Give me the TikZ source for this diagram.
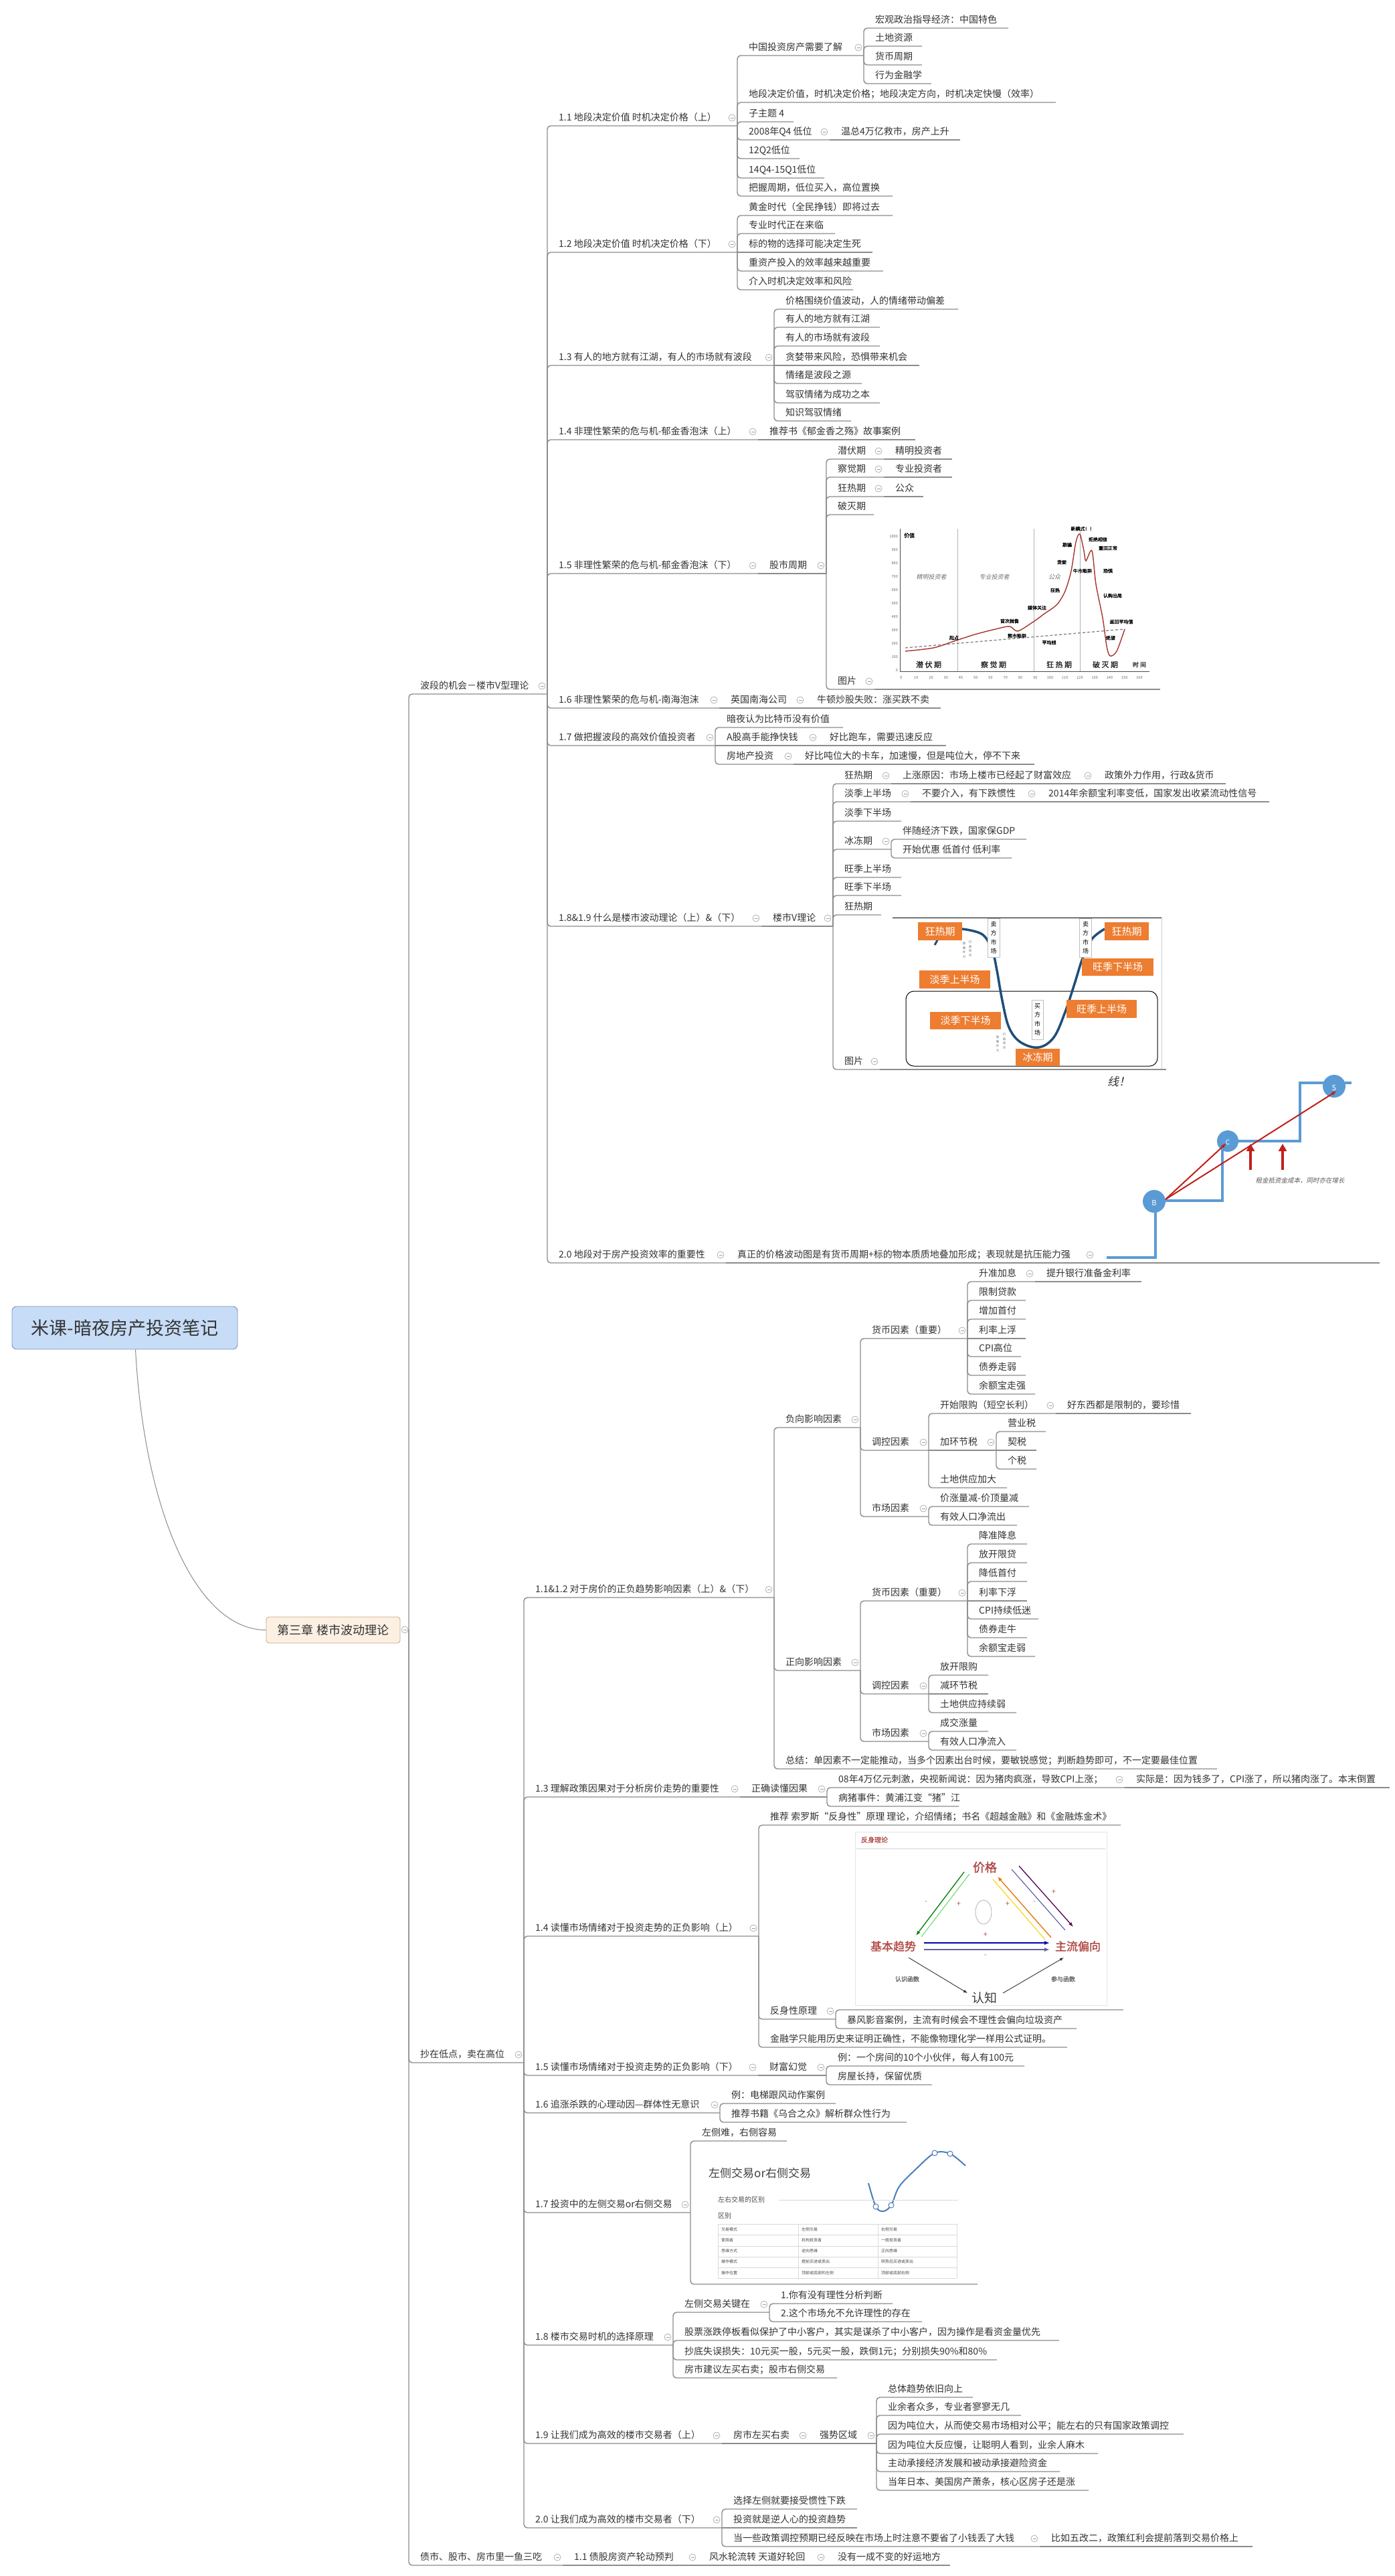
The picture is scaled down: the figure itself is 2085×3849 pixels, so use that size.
\documentclass[tikz,border=0pt]{standalone}
\usepackage{fontspec}
\setmainfont{Noto Sans CJK SC}
\newfontfamily\cjkb{Noto Sans CJK SC}[FakeBold=1.5]
\newfontfamily\cjksl{Noto Sans CJK SC}[FakeSlant=0.22]
\usetikzlibrary{arrows.meta,calc}

\definecolor{ink}{HTML}{333333}
\definecolor{wire}{HTML}{8C8C8C}
\definecolor{rootfill}{HTML}{C7DCF6}
\definecolor{rootline}{HTML}{7894B8}
\definecolor{chfill}{HTML}{FCF0E3}
\definecolor{chline}{HTML}{C9A27F}
\definecolor{orng}{HTML}{ED7D31}
\definecolor{navy}{HTML}{1F4E79}
\definecolor{stair}{HTML}{5B9BD5}
\definecolor{crimson}{HTML}{C0201A}
\definecolor{bubble}{HTML}{A5352E}
\definecolor{reflred}{HTML}{B04A45}
\definecolor{lrblue}{HTML}{4A7EBB}

\newcommand\fs[1]{\fontsize{#1}{#1}\selectfont}

\tikzset{
  tx/.style={anchor=base west, inner sep=0pt, text=ink, font=\fs{14}},
  ln/.style={draw=wire, line width=1.4pt, rounded corners=5pt},
  fold/.style={circle, draw=gray!75, fill=white, line width=0.6pt, minimum size=10pt, inner sep=0pt},
  obox/.style={fill=orng, text=white, inner sep=0pt, font=\fs{15}},
  vlab/.style={draw=gray!50, fill=white, inner sep=1pt, align=center, font=\fontsize{9}{13.5}\selectfont, text=black},
  tiny/.style={inner sep=0pt, font=\cjkb\fs{7}, text=black},
  slab/.style={inner sep=0pt, font=\cjksl\fs{9}, text=black!55},
  phase/.style={inner sep=0pt, font=\cjkb\fs{11}, text=black!85},
  cell/.style={anchor=west, inner sep=0pt, font=\fs{6}, text=black!70},
}

% text node sitting on its underline: name, left x, underline y, right x, text
\newcommand\nd[5]{\coordinate (#1-l) at (#2,#3);\coordinate (#1-r) at (#4,#3);%
  \node[tx] (#1) at (#2+17,#3-8) {#5};}
% underline only (picture children)
\newcommand\ic[4]{\coordinate (#1-l) at (#2,#3);\coordinate (#1-r) at (#4,#3);}
% branch from parent to child / straight chain
\newcommand\cn[2]{\draw[ln] (#1-r) |- (#2-r);}
\newcommand\cc[2]{\draw[ln] (#1-r) -- (#2-r);}
% collapse marker
\newcommand\fd[1]{\node[fold] at ($(#1-r)+(-8,-12)$) {};%
  \draw[gray!75, line width=0.7pt] ($(#1-r)+(-10.5,-12)$) -- ($(#1-r)+(-5.5,-12)$);}

\begin{document}
\begin{tikzpicture}[x=1pt,y=-1pt]
\fill[white] (0,0) rectangle (2085,3849);
\useasboundingbox (0,0) rectangle (2085,3849);

% ---------------- root and chapter ----------------
\node[draw=rootline, fill=rootfill, rounded corners=7pt, line width=0.9pt,
      minimum width=337pt, minimum height=64pt, font=\fs{27}, text=ink] (root) at (186.5,1984) {米课-暗夜房产投资笔记};
\node[draw=chline, fill=chfill, rounded corners=4pt, line width=0.8pt,
      minimum width=200pt, minimum height=39pt, font=\fs{18}, text=ink] (ch) at (498,2435.5) {第三章 楼市波动理论};
\draw[wire, line width=1pt] ($(root.south)+(16,0)$) .. controls (215,2250) and (290,2435) .. (ch.west);
\coordinate (ch-r) at (611,2435);
\node[fold] at (605,2435) {};
\draw[gray!75, line width=0.7pt] (602.5,2435) -- (607.5,2435);

% ---------------- level 1 ----------------
\nd{A}{611}{1037}{818}{波段的机会－楼市V型理论}
\nd{B}{611}{3082}{783}{抄在低点，卖在高位}
\nd{C}{611}{3833}{841}{债市、股市、房市里一鱼三吃}
\nd{C1}{841}{3833}{1043}{1.1 债股房资产轮动预判}
\nd{C2}{1043}{3833}{1235}{风水轮流转 天道好轮回}
\nd{C3}{1235}{3833}{1420}{没有一成不变的好运地方}

% ---------------- branch A ----------------
\nd{a11}{818}{188}{1102}{1.1 地段决定价值 时机决定价格（上）}
\nd{a11a}{1102}{83}{1291}{中国投资房产需要了解}
\nd{a11a1}{1291}{42}{1507}{宏观政治指导经济：中国特色}
\nd{a11a2}{1291}{69}{1378}{土地资源}
\nd{a11a3}{1291}{97}{1378}{货币周期}
\nd{a11a4}{1291}{125}{1392}{行为金融学}
\nd{a11b}{1102}{153}{1578}{地段决定价值，时机决定价格；地段决定方向，时机决定快慢（效率）}
\nd{a11c}{1102}{182}{1186}{子主题 4}
\nd{a11d}{1102}{209}{1240}{2008年Q4 低位}
\nd{a11d1}{1240}{209}{1435}{温总4万亿救市，房产上升}
\nd{a11e}{1102}{237}{1195}{12Q2低位}
\nd{a11f}{1102}{266}{1232}{14Q4-15Q1低位}
\nd{a11g}{1102}{293}{1334}{把握周期，低位买入，高位置换}

\nd{a12}{818}{377}{1102}{1.2 地段决定价值 时机决定价格（下）}
\nd{a12a}{1102}{322}{1334}{黄金时代（全民挣钱）即将过去}
\nd{a12b}{1102}{349}{1248}{专业时代正在来临}
\nd{a12c}{1102}{377}{1304}{标的物的选择可能决定生死}
\nd{a12d}{1102}{405}{1320}{重资产投入的效率越来越重要}
\nd{a12e}{1102}{433}{1275}{介入时机决定效率和风险}

\nd{a13}{818}{546}{1157}{1.3 有人的地方就有江湖，有人的市场就有波段}
\nd{a13a}{1157}{462}{1432}{价格围绕价值波动，人的情绪带动偏差}
\nd{a13b}{1157}{489}{1315}{有人的地方就有江湖}
\nd{a13c}{1157}{517}{1315}{有人的市场就有波段}
\nd{a13d}{1157}{546}{1374}{贪婪带来风险，恐惧带来机会}
\nd{a13e}{1157}{573}{1288}{情绪是波段之源}
\nd{a13f}{1157}{602}{1315}{驾驭情绪为成功之本}
\nd{a13g}{1157}{629}{1272}{知识驾驭情绪}

\nd{a14}{818}{657}{1133}{1.4 非理性繁荣的危与机-郁金香泡沫（上）}
\nd{a14a}{1133}{657}{1368}{推荐书《郁金香之殇》故事案例}

\nd{a15}{818}{857}{1133}{1.5 非理性繁荣的危与机-郁金香泡沫（下）}
\nd{a15a}{1133}{857}{1235}{股市周期}
\nd{p1}{1235}{686}{1321}{潜伏期}
\nd{p1a}{1321}{686}{1423}{精明投资者}
\nd{p2}{1235}{713}{1321}{察觉期}
\nd{p2a}{1321}{713}{1423}{专业投资者}
\nd{p3}{1235}{742}{1321}{狂热期}
\nd{p3a}{1321}{742}{1380}{公众}
\nd{p4}{1235}{769}{1306}{破灭期}
\nd{p5}{1235}{1030}{1307}{图片}
\ic{p5a}{1307}{1030}{1734}

\nd{a16}{818}{1058}{1075}{1.6 非理性繁荣的危与机-南海泡沫}
\nd{a16a}{1075}{1058}{1204}{英国南海公司}
\nd{a16b}{1204}{1058}{1406}{牛顿炒股失败：涨买跌不卖}

\nd{a17}{818}{1114}{1069}{1.7 做把握波段的高效价值投资者}
\nd{a17a}{1069}{1087}{1260}{暗夜认为比特币没有价值}
\nd{a17b}{1069}{1114}{1223}{A股高手能挣快钱}
\nd{a17b1}{1223}{1114}{1414}{好比跑车，需要迅速反应}
\nd{a17c}{1069}{1142}{1186}{房地产投资}
\nd{a17c1}{1186}{1142}{1546}{好比吨位大的卡车，加速慢，但是吨位大，停不下来}

\nd{a18}{818}{1384}{1138}{1.8\&1.9 什么是楼市波动理论（上）\&（下）}
\nd{a18a}{1138}{1384}{1245}{楼市V理论}
\nd{v1}{1245}{1171}{1332}{狂热期}
\nd{v1a}{1332}{1171}{1634}{上涨原因：市场上楼市已经起了财富效应}
\nd{v1b}{1634}{1171}{1832}{政策外力作用，行政\&货币}
\nd{v2}{1245}{1198}{1361}{淡季上半场}
\nd{v2a}{1361}{1198}{1550}{不要介入，有下跌惯性}
\nd{v2b}{1550}{1198}{1897}{2014年余额宝利率变低，国家发出收紧流动性信号}
\nd{v3}{1245}{1227}{1347}{淡季下半场}
\nd{v4}{1245}{1269}{1332}{冰冻期}
\nd{v4a}{1332}{1254}{1534}{伴随经济下跌，国家保GDP}
\nd{v4b}{1332}{1282}{1512}{开始优惠 低首付 低利率}
\nd{v5}{1245}{1311}{1347}{旺季上半场}
\nd{v6}{1245}{1338}{1347}{旺季下半场}
\nd{v7}{1245}{1367}{1317}{狂热期}
\nd{v8}{1245}{1598}{1315}{图片}
\ic{v8a}{1315}{1598}{1743}

\nd{a20}{818}{1887}{1085}{2.0 地段对于房产投资效率的重要性}
\nd{a20a}{1085}{1887}{1637}{真正的价格波动图是有货币周期+标的物本质质地叠加形成；表现就是抗压能力强}
\ic{a20b}{1637}{1887}{2062}

% ---------------- branch B ----------------
\nd{b1}{783}{2387}{1157}{1.1\&1.2 对于房价的正负趋势影响因素（上）\&（下）}
\nd{bn}{1157}{2133}{1286}{负向影响因素}
\nd{bn1}{1286}{2000}{1446}{货币因素（重要）}
\nd{bn11}{1446}{1915}{1547}{升准加息}
\nd{bn11a}{1547}{1915}{1706}{提升银行准备金利率}
\nd{bn12}{1446}{1943}{1533}{限制贷款}
\nd{bn13}{1446}{1971}{1533}{增加首付}
\nd{bn14}{1446}{2000}{1533}{利率上浮}
\nd{bn15}{1446}{2027}{1526}{CPI高位}
\nd{bn16}{1446}{2055}{1533}{债券走弱}
\nd{bn17}{1446}{2083}{1547}{余额宝走强}
\nd{bn2}{1286}{2167}{1388}{调控因素}
\nd{bn21}{1388}{2112}{1578}{开始限购（短空长利）}
\nd{bn21a}{1578}{2112}{1780}{好东西都是限制的，要珍惜}
\nd{bn22}{1388}{2167}{1489}{加环节税}
\nd{bn221}{1489}{2139}{1563}{营业税}
\nd{bn222}{1489}{2167}{1549}{契税}
\nd{bn223}{1489}{2195}{1549}{个税}
\nd{bn23}{1388}{2223}{1505}{土地供应加大}
\nd{bn3}{1286}{2266}{1388}{市场因素}
\nd{bn31}{1388}{2251}{1538}{价涨量减-价顶量减}
\nd{bn32}{1388}{2279}{1520}{有效人口净流出}

\nd{bp}{1157}{2496}{1286}{正向影响因素}
\nd{bp1}{1286}{2392}{1446}{货币因素（重要）}
\nd{bp11}{1446}{2307}{1535}{降准降息}
\nd{bp12}{1446}{2335}{1535}{放开限贷}
\nd{bp13}{1446}{2363}{1535}{降低首付}
\nd{bp14}{1446}{2392}{1535}{利率下浮}
\nd{bp15}{1446}{2419}{1552}{CPI持续低迷}
\nd{bp16}{1446}{2447}{1535}{债券走牛}
\nd{bp17}{1446}{2475}{1547}{余额宝走弱}
\nd{bp2}{1286}{2531}{1388}{调控因素}
\nd{bp21}{1388}{2503}{1477}{放开限购}
\nd{bp22}{1388}{2531}{1477}{减环节税}
\nd{bp23}{1388}{2559}{1519}{土地供应持续弱}
\nd{bp3}{1286}{2602}{1388}{市场因素}
\nd{bp31}{1388}{2587}{1477}{成交涨量}
\nd{bp32}{1388}{2615}{1519}{有效人口净流入}
\nd{bs}{1157}{2643}{1819}{总结：单因素不一定能推动，当多个因素出台时候，要敏锐感觉；判断趋势即可，不一定要最佳位置}

\nd{b3}{783}{2685}{1106}{1.3 理解政策因果对于分析房价走势的重要性}
\nd{b3a}{1106}{2685}{1236}{正确读懂因果}
\nd{b3a1}{1236}{2671}{1681}{08年4万亿元刺激，央视新闻说：因为猪肉疯涨，导致CPI上涨；}
\nd{b3a1a}{1681}{2671}{2077}{实际是：因为钱多了，CPI涨了，所以猪肉涨了。本末倒置}
\nd{b3a2}{1236}{2699}{1433}{病猪事件：黄浦江变“猪”江}

\nd{b4}{783}{2893}{1134}{1.4 读懂市场情绪对于投资走势的正负影响（上）}
\nd{b4a}{1134}{2727}{1675}{推荐 索罗斯“反身性”原理 理论，介绍情绪；书名《超越金融》和《金融炼金术》}
\nd{b4b}{1134}{3017}{1249}{反身性原理}
\ic{b4b1}{1249}{3003}{1679}
\nd{b4b2}{1249}{3031}{1609}{暴风影音案例，主流有时候会不理性会偏向垃圾资产}
\nd{b4c}{1134}{3059}{1595}{金融学只能用历史来证明正确性，不能像物理化学一样用公式证明。}

\nd{b5}{783}{3101}{1133}{1.5 读懂市场情绪对于投资走势的正负影响（下）}
\nd{b5a}{1133}{3101}{1235}{财富幻觉}
\nd{b5a1}{1235}{3087}{1531}{例：一个房间的10个小伙伴，每人有100元}
\nd{b5a2}{1235}{3115}{1393}{房屋长持，保留优质}

\nd{b6}{783}{3157}{1076}{1.6 追涨杀跌的心理动因—群体性无意识}
\nd{b6a}{1076}{3143}{1249}{例：电梯跟风动作案例}
\nd{b6b}{1076}{3171}{1355}{推荐书籍《乌合之众》解析群众性行为}

\nd{b7}{783}{3306}{1032}{1.7 投资中的左侧交易or右侧交易}
\nd{b7a}{1032}{3199}{1176}{左侧难，右侧容易}
\ic{b7b}{1032}{3413}{1461}

\nd{b8}{783}{3504}{1006}{1.8 楼市交易时机的选择原理}
\nd{b8a}{1006}{3455}{1150}{左侧交易关键在}
\nd{b8a1}{1150}{3442}{1334}{1.你有没有理性分析判断}
\nd{b8a2}{1150}{3469}{1378}{2.这个市场允不允许理性的存在}
\nd{b8b}{1006}{3497}{1583}{股票涨跌停板看似保护了中小客户，其实是谋杀了中小客户，因为操作是看资金量优先}
\nd{b8c}{1006}{3526}{1490}{抄底失误损失：10元买一股，5元买一股，跌倒1元；分别损失90\%和80\%}
\nd{b8d}{1006}{3553}{1251}{房市建议左买右卖；股市右侧交易}

\nd{b9}{783}{3651}{1079}{1.9 让我们成为高效的楼市交易者（上）}
\nd{b9a}{1079}{3651}{1208}{房市左买右卖}
\nd{b9b}{1208}{3651}{1310}{强势区域}
\nd{b9b1}{1310}{3582}{1454}{总体趋势依旧向上}
\nd{b9b2}{1310}{3609}{1526}{业余者众多，专业者寥寥无几}
\nd{b9b3}{1310}{3637}{1769}{因为吨位大，从而使交易市场相对公平；能左右的只有国家政策调控}
\nd{b9b4}{1310}{3666}{1641}{因为吨位大反应慢，让聪明人看到，业余人麻木}
\nd{b9b5}{1310}{3693}{1584}{主动承接经济发展和被动承接避险资金}
\nd{b9b6}{1310}{3721}{1627}{当年日本、美国房产萧条，核心区房子还是涨}

\nd{b10}{783}{3777}{1079}{2.0 让我们成为高效的楼市交易者（下）}
\nd{b10a}{1079}{3749}{1281}{选择左侧就要接受惯性下跌}
\nd{b10b}{1079}{3777}{1281}{投资就是逆人心的投资趋势}
\nd{b10c}{1079}{3805}{1554}{当一些政策调控预期已经反映在市场上时注意不要省了小钱丢了大钱}
\nd{b10c1}{1554}{3805}{1872}{比如五改二，政策红利会提前落到交易价格上}

% ---------------- connectors ----------------
\foreach \c in {A,B,C} {\cn{ch}{\c}}
\cc{C}{C1} \cc{C1}{C2} \cc{C2}{C3}
\foreach \c in {a11,a12,a13,a14,a15,a16,a17,a18,a20} {\cn{A}{\c}}
\foreach \c in {a11a,a11b,a11c,a11d,a11e,a11f,a11g} {\cn{a11}{\c}}
\foreach \c in {a11a1,a11a2,a11a3,a11a4} {\cn{a11a}{\c}}
\cc{a11d}{a11d1}
\foreach \c in {a12a,a12b,a12d,a12e} {\cn{a12}{\c}} \cc{a12}{a12c}
\foreach \c in {a13a,a13b,a13c,a13e,a13f,a13g} {\cn{a13}{\c}} \cc{a13}{a13d}
\cc{a14}{a14a}
\cc{a15}{a15a}
\foreach \c in {p1,p2,p3,p4,p5} {\cn{a15a}{\c}}
\cc{p1}{p1a} \cc{p2}{p2a} \cc{p3}{p3a} \cc{p5}{p5a}
\cc{a16}{a16a} \cc{a16a}{a16b}
\foreach \c in {a17a,a17c} {\cn{a17}{\c}} \cc{a17}{a17b} \cc{a17b}{a17b1} \cc{a17c}{a17c1}
\cc{a18}{a18a}
\foreach \c in {v1,v2,v3,v4,v5,v6,v7,v8} {\cn{a18a}{\c}}
\cc{v1}{v1a} \cc{v1a}{v1b} \cc{v2}{v2a} \cc{v2a}{v2b} \cc{v8}{v8a}
\foreach \c in {v4a,v4b} {\cn{v4}{\c}}
\cc{a20}{a20a} \cc{a20a}{a20b}

\foreach \c in {b1,b3,b4,b5,b6,b7,b8,b9,b10} {\cn{B}{\c}}
\foreach \c in {bn,bp,bs} {\cn{b1}{\c}}
\foreach \c in {bn1,bn2,bn3} {\cn{bn}{\c}}
\foreach \c in {bn11,bn12,bn13,bn15,bn16,bn17} {\cn{bn1}{\c}} \cc{bn1}{bn14}
\cc{bn11}{bn11a}
\foreach \c in {bn21,bn23} {\cn{bn2}{\c}} \cc{bn2}{bn22}
\cc{bn21}{bn21a}
\foreach \c in {bn221,bn223} {\cn{bn22}{\c}} \cc{bn22}{bn222}
\foreach \c in {bn31,bn32} {\cn{bn3}{\c}}
\foreach \c in {bp1,bp2,bp3} {\cn{bp}{\c}}
\foreach \c in {bp11,bp12,bp13,bp15,bp16,bp17} {\cn{bp1}{\c}} \cc{bp1}{bp14}
\foreach \c in {bp21,bp23} {\cn{bp2}{\c}} \cc{bp2}{bp22}
\foreach \c in {bp31,bp32} {\cn{bp3}{\c}}
\cc{b3}{b3a}
\foreach \c in {b3a1,b3a2} {\cn{b3a}{\c}} \cc{b3a1}{b3a1a}
\foreach \c in {b4a,b4b,b4c} {\cn{b4}{\c}}
\foreach \c in {b4b1,b4b2} {\cn{b4b}{\c}}
\cc{b5}{b5a}
\foreach \c in {b5a1,b5a2} {\cn{b5a}{\c}}
\foreach \c in {b6a,b6b} {\cn{b6}{\c}}
\foreach \c in {b7a,b7b} {\cn{b7}{\c}}
\foreach \c in {b8a,b8b,b8c,b8d} {\cn{b8}{\c}}
\foreach \c in {b8a1,b8a2} {\cn{b8a}{\c}}
\cc{b9}{b9a} \cc{b9a}{b9b}
\foreach \c in {b9b1,b9b2,b9b3,b9b4,b9b5,b9b6} {\cn{b9b}{\c}}
\foreach \c in {b10a,b10c} {\cn{b10}{\c}} \cc{b10}{b10b} \cc{b10c}{b10c1}

\foreach \f in {A,B,C,C1,C2,a11,a11a,a11d,a12,a13,a14,a15,a15a,p1,p2,p3,p5,a16,a16a,a17,a17b,a17c,a18,a18a,v1,v1a,v2,v2a,v4,v8,a20,a20a,b1,bn,bn1,bn11,bn2,bn21,bn22,bn3,bp,bp1,bp2,bp3,b3,b3a,b3a1,b4,b4b,b5,b5a,b6,b7,b8,b8a,b9,b9a,b9b,b10,b10c} {\fd{\f}}

% ---------------- bubble cycle chart ----------------
\draw[black!70, line width=0.6pt] (1345,790) -- (1345,1003) -- (1718,1003);
\foreach \v in {0,100,...,1000} \node[anchor=east, inner sep=0pt, font=\fs{5.5}, text=black!60] at (1342,{1002-0.2*\v}) {\v};
\foreach \t in {0,10,...,160} \node[inner sep=0pt, font=\fs{5.5}, text=black!60] at ({1347+2.225*\t},1013) {\t};
\foreach \xx in {1431,1545,1614} \draw[black!30, line width=0.5pt] (\xx,790) -- (\xx,1003);
\draw[gray, line width=1.3pt, dash pattern=on 4pt off 3pt] (1353,968) -- (1681,940);
\draw[bubble, line width=1.4pt] plot[smooth, tension=0.5] coordinates {(1353,973) (1395,968) (1426,958) (1457,948) (1488,940) (1509,936) (1521,943) (1543,930) (1561,917) (1580,903) (1592,883) (1601,853) (1608,810) (1614,798) (1620,823) (1623,838) (1632,823) (1638,873) (1648,923) (1654,965) (1659,980) (1669,973) (1681,940)};
\node[tiny, anchor=west, font=\cjkb\fs{8}] at (1351,800) {价值};
\node[tiny] at (1426,953) {起点};
\node[tiny] at (1509,928) {首次抛售};
\node[tiny] at (1520,950) {熊市陷阱};
\node[tiny] at (1568,960) {平均线};
\node[tiny] at (1550,908) {媒体关注};
\node[tiny] at (1577,882) {狂热};
\node[tiny] at (1587,840) {贪婪};
\node[tiny] at (1595,814) {欺骗};
\node[tiny] at (1618,790) {新模式！！};
\node[tiny] at (1641,806) {拒绝相信};
\node[tiny] at (1656,819) {重回正常};
\node[tiny] at (1618,853) {牛市陷阱};
\node[tiny] at (1656,853) {恐惧};
\node[tiny] at (1663,890) {认购出局};
\node[tiny] at (1676,929) {返回平均值};
\node[tiny] at (1660,953) {绝望};
\node[slab] at (1392,862) {精明投资者};
\node[slab] at (1486,862) {专业投资者};
\node[slab] at (1576,862) {公众};
\node[phase] at (1388,993) {潜 伏 期};
\node[phase] at (1485,993) {察 觉 期};
\node[phase] at (1583,993) {狂 热 期};
\node[phase] at (1652,993) {破 灭 期};
\node[phase, font=\cjkb\fs{9}] at (1703,993) {时 间};

% ---------------- V-shaped market chart ----------------
\draw[black, line width=1pt] (1334,1371) -- (1737,1371);
\draw[gray!40, line width=0.6pt] (1736,1371) -- (1736,1597);
\draw[black, line width=1pt, rounded corners=12pt] (1354,1481) rectangle (1730,1593);
\draw[navy, line width=3.5pt] plot[smooth, tension=0.6] coordinates {(1438,1388) (1468,1396) (1483,1420) (1490,1450) (1498,1495) (1508,1535) (1525,1557) (1552,1565) (1575,1550) (1592,1512) (1606,1470) (1618,1432) (1632,1403) (1651,1388)};
\draw[navy, line width=3pt] (1397,1412) -- (1402,1403);
\node[obox, minimum width=66pt, minimum height=27pt] (vk1) at (1405,1391.5) {狂热期};
\node[obox, minimum width=66pt, minimum height=27pt] (vk2) at (1684,1391.5) {狂热期};
\node[obox, minimum width=107pt, minimum height=26pt] (vw2) at (1670.5,1445) {旺季下半场};
\node[obox, minimum width=106pt, minimum height=27pt] (vd1) at (1427,1463.5) {淡季上半场};
\node[obox, minimum width=105pt, minimum height=27pt] (vw1) at (1646.5,1507.5) {旺季上半场};
\node[obox, minimum width=106pt, minimum height=26pt] (vd2) at (1443,1525) {淡季下半场};
\node[obox, minimum width=66pt, minimum height=26pt] (vb) at (1551,1580) {冰冻期};
\node[vlab, minimum width=18pt, minimum height=58pt] (sellL) at (1485,1401) {卖\\方\\市\\场};
\node[vlab, minimum width=18pt, minimum height=58pt] (sellR) at (1622.5,1401) {卖\\方\\市\\场};
\node[vlab, minimum width=17pt, minimum height=59pt] (buy) at (1550.5,1523.5) {买\\方\\市\\场};
\node[inner sep=0pt, align=center, font=\fontsize{4.5}{6.5}\selectfont, text=black!60] at (1441,1420) {政\\策\\外\\力};
\node[inner sep=0pt, align=center, font=\fontsize{4.5}{6.5}\selectfont, text=black!60] at (1450,1418) {行\\政\\货\\币};
\node[inner sep=0pt, align=center, font=\fontsize{4.5}{6.5}\selectfont, text=black!60] at (1491,1560) {政\\策\\外\\力};
\node[inner sep=0pt, align=center, font=\fontsize{4.5}{6.5}\selectfont, text=black!60] at (1501,1556) {行\\政\\货\\币};

\node[inner sep=0pt, font=\cjksl\fs{17}, text=black!80] at (1672,1616) {线！};

% ---------------- stair chart ----------------
\draw[stair, line width=4pt] (1654,1879) -- (1727,1879) -- (1727,1794) -- (1827,1794) -- (1827,1705) -- (1943,1705) -- (1943,1618) -- (2020,1618);
\fill[stair] (1725,1795) circle (17pt);
\fill[stair] (1835,1705) circle (16pt);
\fill[stair] (1994,1623) circle (17pt);
\node[text=white, font=\fs{11}, inner sep=0pt] (sB) at (1725,1797) {B};
\node[text=white, font=\fs{10}, inner sep=0pt] (sC) at (1835,1707) {C};
\node[text=white, font=\fs{11}, inner sep=0pt] (sS) at (1994,1625) {S};
\draw[crimson, line width=2pt, -{Latex[length=8pt,width=6pt]}] (1742,1792) -- (1833,1708);
\draw[crimson, line width=2pt, -{Latex[length=8pt,width=6pt]}] (1742,1792) -- (1998,1630);
\draw[crimson, line width=4pt, -{Triangle[length=11pt,width=12pt]}] (1869,1748) -- (1869,1709);
\draw[crimson, line width=4pt, -{Triangle[length=11pt,width=12pt]}] (1917,1748) -- (1917,1709);
\node[inner sep=0pt, font=\cjksl\fs{9.5}, text=black!65] at (1943,1764) {租金抵资金成本，同时亦在增长};

% ---------------- reflexivity figure ----------------
\draw[gray!20, line width=0.6pt] (1278,2737) rectangle (1654,2996);
\node[inner sep=0pt, font=\cjkb\fs{10}, text=reflred] at (1307,2749) {反身理论};
\draw[gray!35, line width=0.6pt] (1280,2762) -- (1652,2762);
\node[inner sep=0pt, font=\cjkb\fs{18}, text=reflred] (rp) at (1472,2790) {价格};
\node[inner sep=0pt, font=\cjkb\fs{17}, text=reflred] (rb) at (1335,2908) {基本趋势};
\node[inner sep=0pt, font=\cjkb\fs{17}, text=reflred] (rm) at (1611,2908) {主流偏向};
\node[inner sep=0pt, font=\fs{19}, text=black!75] (rc) at (1471,2985) {认知};
\node[inner sep=0pt, font=\cjkb\fs{9}, text=black!60] at (1356,2957) {认识函数};
\node[inner sep=0pt, font=\cjkb\fs{9}, text=black!60] at (1589,2957) {参与函数};
\draw[green!50!black, line width=1.3pt, -{Latex[length=7pt]}] (1441,2797) -- (1369,2892);
\draw[green!60!gray!70, line width=1.1pt] (1449,2800) -- (1377,2894);
\draw[orange!90!black, line width=1.3pt, -{Latex[length=7pt]}] (1571,2895) -- (1491,2804);
\draw[yellow!70!orange, line width=1.1pt] (1562,2898) -- (1484,2808);
\draw[violet!70!black, line width=1.3pt, -{Latex[length=7pt]}] (1523,2788) -- (1604,2879);
\draw[blue!30!gray, line width=1.1pt] (1512,2793) -- (1592,2884);
\draw[blue!70!black, line width=1.8pt, -{Latex[length=8pt]}] (1381,2903) -- (1569,2903);
\draw[blue!25!gray, line width=1.6pt, -{Latex[length=8pt]}] (1381,2913) -- (1569,2913);
\draw[black!80, line width=0.9pt, -{Latex[length=6pt]}] (1358,2925) -- (1446,2978);
\draw[black!80, line width=0.9pt, -{Latex[length=6pt]}] (1499,2978) -- (1590,2925);
\draw[gray!60, line width=0.8pt] (1470,2857) ellipse [x radius=12pt, y radius=18pt];
\node[inner sep=0pt, font=\fs{11}, text=reflred] at (1433,2845) {+};
\node[inner sep=0pt, font=\fs{11}, text=reflred] at (1506,2845) {+};
\node[inner sep=0pt, font=\fs{11}, text=reflred] at (1575,2827) {+};
\node[inner sep=0pt, font=\fs{11}, text=reflred] at (1473,2891) {+};
\node[inner sep=0pt, font=\fs{11}, text=gray] at (1384,2843) {-};
\node[inner sep=0pt, font=\fs{11}, text=gray] at (1546,2843) {-};
\node[inner sep=0pt, font=\fs{11}, text=gray] at (1473,2923) {-};

% ---------------- left / right trading figure ----------------
\node[anchor=west, inner sep=0pt, font=\fs{17}, text=black!75] at (1059,3247) {左侧交易or右侧交易};
\draw[lrblue, line width=2pt] plot[smooth, tension=0.55] coordinates {(1298,3262) (1309,3297) (1320,3304) (1332,3295) (1344,3267) (1370,3240) (1397,3217) (1420,3218) (1443,3236)};
\foreach \px/\py in {1309/3297,1332/3295,1397/3217,1420/3218} \draw[lrblue, fill=white, line width=1pt] (\px,\py) circle (4pt);
\node[anchor=west, inner sep=0pt, font=\fs{10}, text=black!70] at (1073,3287) {左右交易的区别};
\draw[gray!30, line width=0.5pt] (1164,3287) -- (1432,3287);
\node[anchor=west, inner sep=0pt, font=\fs{10}, text=black!70] at (1073,3311) {区别};
\foreach \yy in {3323,3339,3356,3372,3388,3404} \draw[gray!30, line width=0.5pt] (1073,\yy) -- (1430,\yy);
\foreach \xx in {1073,1193,1312,1430} \draw[gray!30, line width=0.5pt] (\xx,3323) -- (\xx,3404);
\foreach \r/\ca/\cb/\cd in {0/交易模式/左侧交易/右侧交易,1/使用者/机构投资者/一般投资者,2/思维方式/逆向思维/正向思维,3/操作模式/提前买进或卖出/转势后买进或卖出,4/操作位置/顶部或底部的左侧/顶部或底部右侧}
  {\node[cell] at (1078,{3331+16.2*\r}) {\ca};
   \node[cell] at (1198,{3331+16.2*\r}) {\cb};
   \node[cell] at (1317,{3331+16.2*\r}) {\cd};}

\end{tikzpicture}
\end{document}
